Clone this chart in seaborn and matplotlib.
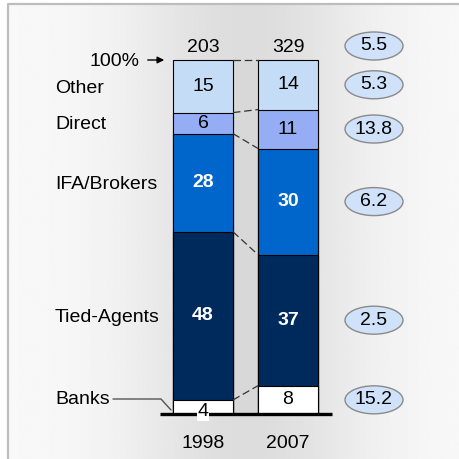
"""Distribution channel shares, 1998 vs 2007, as stacked 100% bars."""

import numpy as np
import pandas as pd
import matplotlib.pyplot as plt
from matplotlib.patches import Ellipse, Rectangle
import seaborn as sns

sns.set_theme(style='white')
plt.rcParams['font.family'] = ['Liberation Sans', 'DejaVu Sans']
plt.rcParams['text.color'] = 'black'

# data
years = ["1998", "2007"]
channels = ["Banks", "Tied-Agents", "IFA/Brokers", "Direct", "Other"]
share_1998 = [4, 48, 28, 6, 15]
share_2007 = [8, 37, 30, 11, 14]
totals = [203, 329]
growth_total = 5.5
growth_channel = [15.2, 2.5, 6.2, 13.8, 5.3]  # same order as channels

colors = ["#ffffff", "#002a5c", "#0066cc", "#94adf5", "#c5dcf7"]
text_colors = ["black", "white", "white", "black", "black"]

df = pd.DataFrame({"year": np.repeat(years, len(channels)),
                   "channel": channels * 2,
                   "share": share_1998 + share_2007})
df["height"] = df.groupby("year")["share"].transform(lambda s: s / s.sum() * 100)
df["top"] = df.groupby("year")["height"].cumsum()
df["mid"] = df["top"] - df["height"] / 2

# pixel -> data helpers (axes covers the whole 460x459 figure)
X0, XS = 203, 85.0
Y0, YS = 414, 3.54
FS = 14


def px(x):
    return (x - X0) / XS


def py(y):
    return (Y0 - y) / YS


fig = plt.figure(figsize=(4.6, 4.59), dpi=100)
ax = fig.add_axes([0, 0, 1, 1])
xlim = (px(0), px(460))
ylim = (py(459), py(0))

# background frame with horizontal gradient
xs = np.linspace(0, 460, 300)
shade = 0.975 - 0.11 * np.exp(-((xs - 245) / 120) ** 2)
grad = np.tile(shade, (2, 1))
ax.imshow(grad, cmap='gray', vmin=0, vmax=1, aspect='auto',
          extent=(px(8), px(460), py(459), py(4)), zorder=0)
ax.plot([px(8), px(8), px(460)], [py(459), py(4), py(4)],
        color="#bdbdbd", lw=1.6, zorder=1, solid_capstyle='butt')
ax.add_patch(Rectangle((px(233), 0), px(258) - px(233), 100,
                       color="#d8d8d8", lw=0, zorder=1))

# stacked bars: draw cumulative heights from the top layer down
bar_w = 60 / XS
for i in range(len(channels) - 1, -1, -1):
    sub = df[df["channel"] == channels[i]]
    sns.barplot(data=sub, x="year", y="top", order=years, color=colors[i],
                saturation=1, width=bar_w, edgecolor="black", linewidth=0.8,
                ax=ax, zorder=3)

# segment labels
for _, r in df.iterrows():
    i = channels.index(r["channel"])
    xi = years.index(r["year"])
    y = r["mid"]
    bbox = None
    if r["channel"] == "Banks" and r["year"] == "1998":
        y = 0.6
        bbox = dict(facecolor="white", edgecolor="none", pad=0.5)
    ax.text(xi, y, str(r["share"]), ha="center", va="center", fontsize=FS,
            color=text_colors[i], fontweight="bold" if i in (1, 2) else "normal",
            zorder=6, bbox=bbox)

# dashed connectors between bars
tops_a = list(df[df["year"] == "1998"]["top"])
tops_b = list(df[df["year"] == "2007"]["top"])
for ya, yb in zip(tops_a, tops_b):
    ax.plot([bar_w / 2, 1 - bar_w / 2], [ya, yb], color="#333333", lw=0.9,
            ls=(0, (6, 3)), zorder=4)

# baseline
ax.plot([px(160), px(332)], [0, 0], color="black", lw=2.4, zorder=5,
        solid_capstyle='butt')

# totals and years
for xi, (t, yr) in enumerate(zip(totals, years)):
    ax.text(xi, py(47), str(t), ha="center", va="center", fontsize=FS)
    ax.text(xi, py(444), yr, ha="center", va="center", fontsize=FS)

ax.text(px(140), py(61), "100%", ha="right", va="center", fontsize=FS)
ax.annotate("", xy=(px(167), 100), xytext=(px(145), 100),
            arrowprops=dict(arrowstyle="-|>", color="black", lw=1,
                            mutation_scale=10))

# channel labels on the left (aligned with 1998 segments)
mids_a = list(df[df["year"] == "1998"]["mid"])
for i, name in enumerate(channels):
    y = py(400) if name == "Banks" else mids_a[i] - 0.5
    ax.text(px(55), y, name, ha="left", va="center", fontsize=FS)
ax.plot([px(113), px(161), px(171)], [py(399), py(399), py(410)],
        color="#555555", lw=1, zorder=4)

# growth ellipses on the right (aligned with 2007 segments)
mids_b = list(df[df["year"] == "2007"]["mid"])
ell_y = [py(46)] + mids_b[::-1]
ell_v = [growth_total] + growth_channel[::-1]
for y, v in zip(ell_y, ell_v):
    ax.add_patch(Ellipse((px(374), y), 58 / XS, 28 / YS, facecolor="#cfe2fa",
                         edgecolor="#8a8a8a", lw=1, zorder=4))
    ax.text(px(374), y, f"{v:.1f}", ha="center", va="center", fontsize=FS,
            zorder=5)

ax.set_xlim(xlim)
ax.set_ylim(ylim)
ax.axis("off")

fig.savefig("out.png", dpi=100)
